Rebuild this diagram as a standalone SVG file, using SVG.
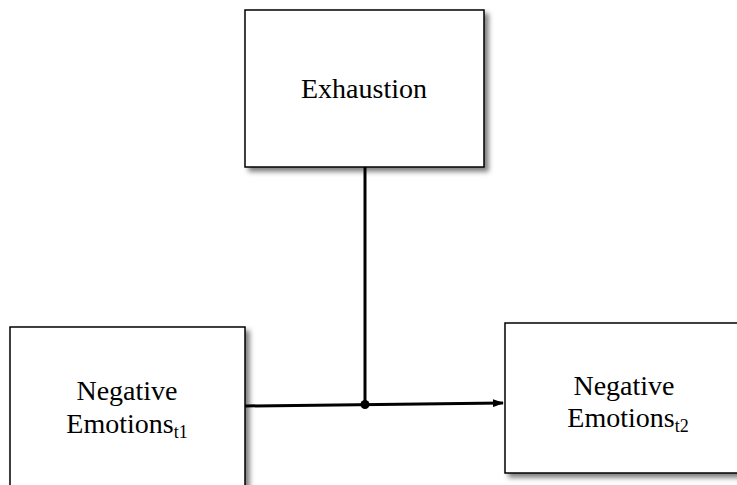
<svg xmlns="http://www.w3.org/2000/svg" width="737" height="485" viewBox="0 0 737 485">
<style>
.box{fill:#fff;stroke:#000;stroke-width:1.5;filter:url(#sh)}
.t{font-family:'Liberation Serif','Times New Roman',Times,'DejaVu Serif',serif;font-size:28px;fill:#000;text-anchor:middle}
.sub{font-size:18px}
.c{stroke:#000;stroke-width:3;fill:none}
</style>
<defs>
<filter id="sh" x="-10%" y="-10%" width="130%" height="130%">
<feDropShadow dx="4" dy="4" stdDeviation="2.5" flood-color="#000" flood-opacity="0.5"/>
</filter>
<marker id="ah" markerWidth="11" markerHeight="8" refX="10" refY="4" orient="auto" markerUnits="userSpaceOnUse">
<path d="M0,0 L11,4 L0,8 z" fill="#000"/>
</marker>
</defs>
<g id="exhaustion">
<rect class="box" x="245" y="10" width="239" height="157"/>
<text class="t" x="364" y="98">Exhaustion</text>
</g>
<g id="neg-t1">
<rect class="box" x="10" y="327" width="235" height="175"/>
<text class="t" x="127" y="400">Negative</text>
<text class="t" x="127" y="433">Emotions<tspan class="sub" dy="5">t1</tspan></text>
</g>
<g id="neg-t2">
<rect class="box" x="505" y="323" width="250" height="150"/>
<text class="t" x="624" y="395">Negative</text>
<text class="t" x="628" y="427">Emotions<tspan class="sub" dy="5">t2</tspan></text>
</g>
<g id="connectors">
<line class="c" x1="245" y1="406" x2="503" y2="403" marker-end="url(#ah)"/>
<line class="c" x1="365" y1="167" x2="365" y2="404"/>
<circle cx="365" cy="404.5" r="4.5" fill="#000"/>
</g>
</svg>
